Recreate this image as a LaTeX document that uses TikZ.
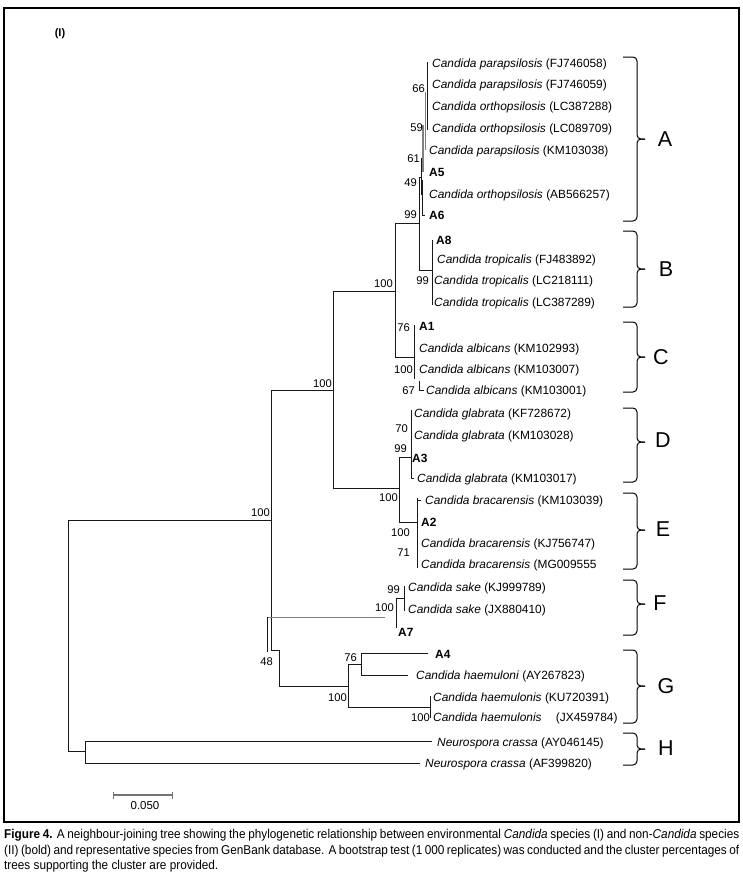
\documentclass[tikz,border=0pt]{standalone}
\usepackage{fontspec}
\setmainfont{Liberation Sans}
\newfontfamily\capfont[FakeStretch=0.92]{Liberation Sans}
\newcommand\mylf[2]{\textit{#1} (#2)}
\newcommand\clbr[3]{%
  \draw[brk] (623,#1) -- (637,#1) -- (637,#3) -- (645,#3);
  \draw[brk] (623,#2) -- (637,#2) -- (637,#3) -- (645,#3);}
\begin{document}
\begin{tikzpicture}[x=1pt,y=-1pt,
  tl/.style={line width=0.85pt, draw=black!90},
  tg/.style={line width=0.85pt, draw=black!50},
  lf/.style={anchor=west, inner sep=0pt, text height=8.6pt, text depth=0pt, font=\fontsize{11.9}{13}\selectfont},
  bs/.style={anchor=east, inner sep=0pt, text height=8.2pt, text depth=0pt, font=\fontsize{11.2}{13}\selectfont},
  cl/.style={anchor=center, inner sep=0pt, font=\fontsize{21.5}{22}\selectfont},
  brk/.style={line width=1pt, draw=black, rounded corners=4pt},
  capl/.style={anchor=base west, inner sep=0pt, font=\capfont\fontsize{12.8}{14}\selectfont}]
\useasboundingbox (0,0) rectangle (743,879);
\fill[white] (0,0) rectangle (743,879);
% frame
\draw[line width=1.3pt] (4,8) rectangle (739,822);
\node[font=\bfseries\fontsize{11}{11}\selectfont, inner sep=0pt] (ttl) at (60,34) {(I)};

% ---------- tree lines ----------
% clade A
\draw[tl] (427,62) -- (427,130);
\draw[tg] (425,92) -- (425,150);
\draw[tg, line width=1.6pt] (423,125) -- (423,172);
\draw[tl] (421,158) -- (421,195);
\draw[tl] (419,177) -- (421,177);
\draw[tl] (422,180) -- (422,215) -- (425,215);
% A+B
\draw[tl] (419,177) -- (419,270) -- (432,270);
\draw[tl] (395,223) -- (419,223);
\draw[tl] (432,240) -- (432,305);
% AB + C
\draw[tl] (395,223) -- (395,357) -- (414,357);
\draw[tl] (414,325) -- (414,379);
\draw[tl] (419,381) -- (419,390) -- (424,390);
\draw[tl] (333,291) -- (395,291);
% ABC + DE
\draw[tl] (333,291) -- (333,488) -- (399,488);
\draw[tl] (271,390) -- (333,390);
% D
\draw[tl] (399,457) -- (411,457);
\draw[tl] (411,410) -- (411,478) -- (414,478);
% E
\draw[tl] (399,457) -- (399,522) -- (417,522);
\draw[tl] (417,498) -- (417,568);
\draw[tl] (417,500) -- (421,500);
% root
\draw[tl] (271,520) -- (68,520) -- (68,751) -- (85,751);
\draw[tl] (271,390) -- (271,650) -- (279,650) -- (279,686) -- (348,686);
% F
\draw[tg] (267,617) -- (385,617);
\draw[tl] (267,617) -- (267,652);
\draw[tl] (396,598) -- (404,598);
\draw[tl] (404,586) -- (404,611);
\draw[tl] (396,598) -- (396,628);
% G
\draw[tl] (348,664) -- (348,707) -- (430,707);
\draw[tl] (348,664) -- (361,664);
\draw[tl] (428,653) -- (361,653) -- (361,675) -- (408,675);
\draw[tl] (430,696) -- (430,718);
% H
\draw[tl] (85,741) -- (85,763);
\draw[tl] (85,741) -- (432,741);
\draw[tl] (85,763) -- (420,763);

% ---------- leaf labels ----------
\node[lf] (l1) at (432,63) {\mylf{Candida parapsilosis}{FJ746058}};
\node[lf] (l2) at (432,84) {\mylf{Candida parapsilosis}{FJ746059}};
\node[lf] (l3) at (432,106) {\mylf{Candida orthopsilosis}{LC387288}};
\node[lf] (l4) at (432,128) {\mylf{Candida orthopsilosis}{LC089709}};
\node[lf] (l5) at (429,150) {\mylf{Candida parapsilosis}{KM103038}};
\node[lf] (l6) at (429,172) {\textbf{A5}};
\node[lf] (l7) at (429,194) {\mylf{Candida orthopsilosis}{AB566257}};
\node[lf] (l8) at (429,215) {\textbf{A6}};
\node[lf] (l9) at (436,240) {\textbf{A8}};
\node[lf] (l10) at (437,259) {\mylf{Candida tropicalis}{FJ483892}};
\node[lf] (l11) at (434,280) {\mylf{Candida tropicalis}{LC218111}};
\node[lf] (l12) at (434,302) {\mylf{Candida tropicalis}{LC387289}};
\node[lf] (l13) at (419,326) {\textbf{A1}};
\node[lf] (l14) at (419,348) {\mylf{Candida albicans}{KM102993}};
\node[lf] (l15) at (419,369) {\mylf{Candida albicans}{KM103007}};
\node[lf] (l16) at (426,390) {\mylf{Candida albicans}{KM103001}};
\node[lf] (l17) at (414,413) {\mylf{Candida glabrata}{KF728672}};
\node[lf] (l18) at (414,435) {\mylf{Candida glabrata}{KM103028}};
\node[lf] (l19) at (412,458) {\textbf{A3}};
\node[lf] (l20) at (417,478) {\mylf{Candida glabrata}{KM103017}};
\node[lf] (l21) at (425,500) {\mylf{Candida bracarensis}{KM103039}};
\node[lf] (l22) at (421,522) {\textbf{A2}};
\node[lf] (l23) at (421,543) {\mylf{Candida bracarensis}{KJ756747}};
\node[lf] (l24) at (421,564) {\textit{Candida bracarensis} (MG009555};
\node[lf] (l25) at (408,587) {\mylf{Candida sake}{KJ999789}};
\node[lf] (l26) at (408,609) {\mylf{Candida sake}{JX880410}};
\node[lf] (l27) at (398,632) {\textbf{A7}};
\node[lf] (l28) at (435,654) {\textbf{A4}};
\node[lf] (l29) at (416,675) {\mylf{Candida haemuloni}{AY267823}};
\node[lf] (l30) at (433,697) {\mylf{Candida haemulonis}{KU720391}};
\node[lf] (l31) at (433,717) {\textit{Candida haemulonis}\hspace{1.2em}(JX459784)};
\node[lf] (l32) at (437,742) {\mylf{Neurospora crassa}{AY046145}};
\node[lf] (l33) at (425,763) {\mylf{Neurospora crassa}{AF399820}};

% ---------- bootstrap values ----------
\node[bs] (b1) at (425,88) {66};
\node[bs] (b2) at (423,127) {59};
\node[bs] (b3) at (420,158) {61};
\node[bs] (b4) at (417,182) {49};
\node[bs] (b5) at (417,214) {99};
\node[bs] (b6) at (429,280) {99};
\node[bs] (b7) at (393,283) {100};
\node[bs] (b8) at (410,327) {76};
\node[bs] (b9) at (413,369) {100};
\node[bs] (b10) at (415,390) {67};
\node[bs] (b11) at (332,383) {100};
\node[bs] (b12) at (408,428) {70};
\node[bs] (b13) at (407,448) {99};
\node[bs] (b14) at (398,497) {100};
\node[bs] (b15) at (410,532) {100};
\node[bs] (b16) at (410,552) {71};
\node[bs] (b17) at (270,512) {100};
\node[bs] (b18) at (400,589) {99};
\node[bs] (b19) at (394,607) {100};
\node[bs] (b20) at (273,661) {48};
\node[bs] (b21) at (357,657) {76};
\node[bs] (b22) at (347,697) {100};
\node[bs] (b23) at (430,717) {100};

% ---------- cluster brackets ----------
\clbr{57}{221}{139}
\clbr{231}{307}{269}
\clbr{322}{392}{357}
\clbr{408}{482}{442}
\clbr{493}{569}{530}
\clbr{580}{635}{604}
\clbr{650}{723}{686}
\clbr{733}{765}{749}
\node[cl] (cA) at (665,139) {A};
\node[cl] (cB) at (666,269) {B};
\node[cl] (cC) at (661,357) {C};
\node[cl] (cD) at (663,440) {D};
\node[cl] (cE) at (663,529) {E};
\node[cl] (cF) at (660,603) {F};
\node[cl] (cG) at (666,686) {G};
\node[cl] (cH) at (666,748) {H};

% ---------- scale bar ----------
\draw[line width=1.2pt, draw=black!55] (113,795) -- (172,795);
\draw[line width=1pt, draw=black!55] (113,791.5) -- (113,798.5);
\draw[line width=1pt, draw=black!55] (172,791.5) -- (172,798.5);
\node[inner sep=0pt, font=\fontsize{11.5}{12}\selectfont] (sb) at (145,806) {0.050};

% ---------- caption ----------
\node[capl] (c1) at (4,838) {\makebox[735pt][s]{\textbf{Figure 4.} A neighbour-joining tree showing the phylogenetic relationship between environmental \textit{Candida} species (I) and non-\textit{Candida} species}};
\node[capl] (c2) at (4,854) {\makebox[735pt][s]{(II) (bold) and representative species from GenBank database. A bootstrap test (1 000 replicates) was conducted and the cluster percentages of}};
\node[capl] (c3) at (4,869.5) {trees supporting the cluster are provided.};
\end{tikzpicture}
\end{document}
